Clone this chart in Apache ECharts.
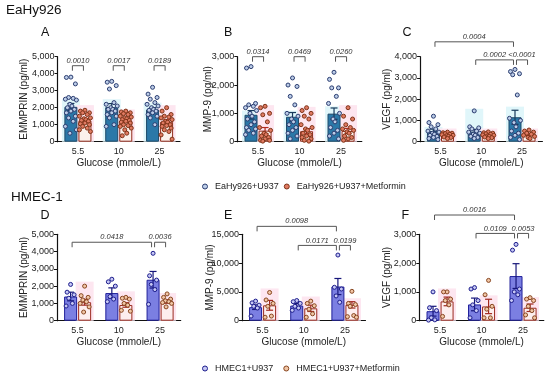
<!DOCTYPE html>
<html><head><meta charset="utf-8">
<script src="https://cdn.jsdelivr.net/npm/echarts@6/dist/echarts.min.js"></script>
<style>html,body{margin:0;padding:0;background:#fff}#c{width:550px;height:379px}</style>
</head><body><div id="c"></div>
<script>
const categories = ['5.5', '10', '25'];
const xName = 'Glucose (mmole/L)';
const legendTop = ['EaHy926+U937', 'EaHy926+U937+Metformin'];
const legendBottom = ['HMEC1+U937', 'HMEC1+U937+Metformin'];

// ---- Panel A : EMMPRIN, EaHy926
const aBlueMean = [2050, 2030, 1890];
const aBlueSem = [200, 210, 110];
const aRedMean = [1240, 1220, 1170];
const aRedSem = [90, 80, 120];
const aBlueDots = [
  [3800, 3780, 3400, 2600, 2550, 2500, 2450, 2200, 2100, 2000, 1900, 1800, 1700, 1500, 1400, 1200, 900, 700, 500],
  [3550, 3500, 3300, 3100, 2300, 2200, 2100, 2000, 1900, 1900, 1800, 1700, 1600, 1500, 1400, 1000, 900],
  [3200, 2800, 2600, 2500, 2300, 2200, 2100, 2000, 1900, 1850, 1800, 1700, 1600, 1500, 1400, 1000]];
const aRedDots = [
  [1850, 1800, 1700, 1700, 1600, 1500, 1400, 1350, 1300, 1250, 1200, 1100, 1050, 1000, 900, 800, 700, 600],
  [1800, 1750, 1700, 1650, 1600, 1500, 1450, 1400, 1350, 1300, 1250, 1200, 1150, 1100, 1000, 950, 900, 800, 700, 500, 350],
  [2000, 1800, 1600, 1500, 1450, 1400, 1300, 1200, 1150, 1100, 1000, 950, 900, 800, 700, 600, 400, 150]];
const aBlueShade = [2500, 2500, 2300];
const aRedShade = [2150, 1900, 2150];
const aBrackets = [
  {text: '0.0010', from: [0, 0], to: [0, 1], level: 4470},
  {text: '0.0017', from: [1, 0], to: [1, 1], level: 4470},
  {text: '0.0189', from: [2, 0], to: [2, 1], level: 4470}];

// ---- Panel B : MMP-9, EaHy926
const bBlueMean = [950, 880, 990];
const bBlueSem = [150, 150, 200];
const bRedMean = [390, 370, 380];
const bRedSem = [110, 90, 90];
const bBlueDots = [
  [2650, 2600, 1350, 1300, 1250, 1200, 1100, 1000, 900, 800, 700, 600, 500, 450, 400, 300, 250],
  [2250, 2000, 1950, 1600, 1300, 1000, 900, 800, 700, 600, 500, 400, 300, 200, 100],
  [2450, 2200, 1900, 1900, 1600, 1350, 1000, 800, 700, 500, 400, 300, 200, 100]];
const bRedDots = [
  [1250, 1200, 1000, 950, 700, 500, 400, 300, 250, 200, 150, 100, 50, 50, 20],
  [1200, 1100, 1000, 900, 800, 600, 500, 450, 400, 300, 250, 200, 150, 100, 50, 20],
  [1200, 900, 800, 600, 500, 450, 400, 350, 300, 200, 150, 100, 50]];
const bBlueShade = [1100, 1100, 1250];
const bRedShade = [1290, 1230, 1290];
const bBrackets = [
  {text: '0.0314', from: [0, 0], to: [0, 1], level: 3000},
  {text: '0.0469', from: [1, 0], to: [1, 1], level: 3000},
  {text: '0.0260', from: [2, 0], to: [2, 1], level: 3000}];

// ---- Panel C : VEGF, EaHy926
const cBlueMean = [500, 470, 1150];
const cBlueSem = [90, 110, 330];
const cRedMean = [320, 320, 330];
const cRedSem = [30, 30, 35];
const cBlueDots = [
  [1200, 900, 800, 700, 600, 500, 450, 400, 350, 300, 250, 200, 150, 100],
  [1450, 700, 650, 600, 500, 450, 400, 350, 300, 250, 200, 150],
  [3400, 3300, 3200, 3150, 2200, 1100, 1000, 900, 700, 500, 400, 300, 200, 100]];
const cRedDots = [
  [450, 420, 400, 380, 350, 330, 300, 280, 250, 220, 200, 150],
  [460, 420, 400, 370, 350, 320, 300, 270, 250, 220, 190, 150],
  [550, 500, 450, 400, 350, 300, 250, 200, 150]];
const cBlueShade = [700, 1550, 1650];
const cRedShade = [620, 620, 620];
const cBrackets = [
  {text: '0.0004', from: [0, 0], to: [2, 0], level: 4700},
  {text: '0.0002', from: [1, 0], to: [2, 0], level: 3850},
  {text: '<0.0001', from: [2, 0], to: [2, 1], level: 3850}];

// ---- Panel D : EMMPRIN, HMEC-1
const dBlueMean = [1400, 1600, 2370];
const dBlueSem = [250, 300, 480];
const dRedMean = [1070, 910, 1110];
const dRedSem = [170, 130, 100];
const dBlueDots = [[2100, 1650, 1500, 1300, 1000, 850], [2400, 2250, 2000, 1400, 1250, 1100], [3900, 2600, 2350, 2100, 1800, 950]];
const dRedDots = [[2000, 1450, 1350, 1200, 1100, 1000, 800, 500], [1350, 1300, 1250, 1000, 900, 600, 550], [1550, 1350, 1250, 1150, 1100, 1050, 1000, 800]];
const dRedShade = [2260, 1700, 1600];
const dBrackets = [
  {text: '0.0418', from: [0, 0], to: [2, 0], level: 4540},
  {text: '0.0036', from: [2, 0], to: [2, 1], level: 4540}];

// ---- Panel E : MMP-9, HMEC-1
const eBlueMean = [2350, 2620, 5930];
const eBlueSem = [400, 350, 1400];
const eRedMean = [2670, 2150, 2750];
const eRedSem = [850, 550, 550];
const eBlueDots = [[3400, 3100, 2700, 2500, 2200, 800], [3500, 3300, 3000, 2500, 2200, 1800], [11400, 5800, 5500, 4300, 3200]];
const eRedDots = [[4900, 3600, 3000, 2500, 800, 600], [3400, 3000, 2600, 2000, 1200, 600], [5100, 3000, 2800, 2500, 900, 700, 600]];
const eRedShade = [5600, 4200, 3900];
const eBrackets = [
  {text: '0.0098', from: [0, 0], to: [2, 0], level: 16380},
  {text: '0.0171', from: [1, 0], to: [2, 0], level: 13070},
  {text: '0.0199', from: [2, 0], to: [2, 1], level: 13070}];

// ---- Panel F : VEGF, HMEC-1
const fBlueMean = [330, 565, 1550];
const fBlueSem = [170, 220, 430];
const fRedMean = [670, 495, 450];
const fRedSem = [150, 250, 130];
const fBlueDots = [[1000, 450, 350, 100, 30, 20], [1150, 1100, 700, 550, 350, 100], [2650, 2450, 1100, 1000, 900, 700]];
const fRedDots = [[1000, 1000, 750, 700, 550, 150], [1400, 900, 500, 400, 100, 100], [800, 750, 700, 500, 350, 200, 100]];
const fRedShade = [1120, 880, 820];
const fBrackets = [
  {text: '0.0016', from: [0, 0], to: [2, 0], level: 3670},
  {text: '0.0109', from: [1, 0], to: [2, 0], level: 3030},
  {text: '0.0053', from: [2, 0], to: [2, 1], level: 3030}];

// ---------------- styles & layout ----------------
const topTheme = {
  blueFill: '#2b78a8', blueBorder: '#1d4a68', redFill: '#fbf1ec', redBorder: '#922c1c',
  blueErr: '#183a5c', redErr: '#b02a1e',
  blueDotFill: '#bccde8', blueDotStroke: '#2b3d70', redDotFill: '#e07a62', redDotStroke: '#7e3317',
  blueShade: '#e0f6fa', redShade: '#fde6f0', jitter: [0, -4.5, 4.5, -2.3, 2.3, -5.5, 5.5, -1, 1, -3.5, 3.5]
};
const botTheme = {
  blueFill: '#7b7fe2', blueBorder: '#20209a', redFill: '#fdeeee', redBorder: '#9c2a20',
  blueErr: '#16167a', redErr: '#a0281e',
  blueDotFill: '#c6c8f4', blueDotStroke: '#1c1c8c', redDotFill: '#f1c6a6', redDotStroke: '#87451f',
  blueShade: null, redShade: '#fde6f0', jitter: [0, -3.5, 3.5, -1.8, 1.8, -4.5, 4.5, -1, 1]
};

const panels = [
  {letter: 'A', yName: 'EMMPRIN (pg/ml)', max: 5000, interval: 1000, grid: [57.5, 56.7, 122.5, 85], yNameGap: 28, letterPos: [41, 26],
   bm: aBlueMean, bs: aBlueSem, rm: aRedMean, rs: aRedSem, bd: aBlueDots, rd: aRedDots, bsh: aBlueShade, rsh: aRedShade, br: aBrackets, th: topTheme, lg: legendTop},
  {letter: 'B', yName: 'MMP-9 (pg/ml)', max: 3000, interval: 1000, grid: [237.3, 56.7, 124.5, 85], yNameGap: 24, letterPos: [224, 26],
   bm: bBlueMean, bs: bBlueSem, rm: bRedMean, rs: bRedSem, bd: bBlueDots, rd: bRedDots, bsh: bBlueShade, rsh: bRedShade, br: bBrackets, th: topTheme, lg: legendTop},
  {letter: 'C', yName: 'VEGF (pg/ml)', max: 4000, interval: 1000, grid: [420.1, 56.7, 122.3, 85], yNameGap: 27.5, letterPos: [402.5, 26],
   bm: cBlueMean, bs: cBlueSem, rm: cRedMean, rs: cRedSem, bd: cBlueDots, rd: cRedDots, bsh: cBlueShade, rsh: cRedShade, br: cBrackets, th: topTheme, lg: legendTop},
  {letter: 'D', yName: 'EMMPRIN (pg/ml)', max: 5000, interval: 1000, grid: [57, 234.3, 123.7, 86.4], yNameGap: 27.5, letterPos: [40.5, 209.5],
   bm: dBlueMean, bs: dBlueSem, rm: dRedMean, rs: dRedSem, bd: dBlueDots, rd: dRedDots, bsh: null, rsh: dRedShade, br: dBrackets, th: botTheme, lg: legendBottom},
  {letter: 'E', yName: 'MMP-9 (pg/ml)', max: 15000, interval: 5000, grid: [242, 234.3, 123.5, 86.4], yNameGap: 27, letterPos: [224, 209.5],
   bm: eBlueMean, bs: eBlueSem, rm: eRedMean, rs: eRedSem, bd: eBlueDots, rd: eRedDots, bsh: null, rsh: eRedShade, br: eBrackets, th: botTheme, lg: legendBottom},
  {letter: 'F', yName: 'VEGF (pg/ml)', max: 3000, interval: 1000, grid: [419.3, 234.3, 124.5, 86.4], yNameGap: 27, letterPos: [401.5, 209.5],
   bm: fBlueMean, bs: fBlueSem, rm: fRedMean, rs: fRedSem, bd: fBlueDots, rd: fRedDots, bsh: null, rsh: fRedShade, br: fBrackets, th: botTheme, lg: legendBottom}
];

const BAR_W = 13;
const SIDE = (BAR_W + BAR_W * 0.08) / 2; // centre offset of each bar from the category centre
const sideOffset = s => (s === 0 ? -SIDE : SIDE);

function shadeSeries(k, values, side, color) {
  return {
    type: 'custom', name: '_shade', xAxisIndex: k, yAxisIndex: k, z: 1, silent: true,
    data: values.map((v, i) => [i, v]),
    renderItem: (params, api) => {
      const top = api.coord([api.value(0), api.value(1)]);
      const bot = api.coord([api.value(0), 0]);
      const cx = top[0] + sideOffset(side);
      return {type: 'rect', shape: {x: cx - 9, y: top[1], width: 18, height: bot[1] - top[1]}, style: {fill: color}};
    }
  };
}
function errSeries(k, means, sems, side, color) {
  return {
    type: 'custom', name: '_err', xAxisIndex: k, yAxisIndex: k, z: 4, silent: true,
    data: means.map((m, i) => [i, m, sems[i]]),
    renderItem: (params, api) => {
      const c = api.value(0), m = api.value(1), s = api.value(2);
      const t = api.coord([c, m + s]), b = api.coord([c, Math.max(0, m - s)]);
      const x = t[0] + sideOffset(side);
      const st = {stroke: color, lineWidth: 1.2};
      return {type: 'group', children: [
        {type: 'line', shape: {x1: x, y1: t[1], x2: x, y2: b[1]}, style: st},
        {type: 'line', shape: {x1: x - 3.5, y1: t[1], x2: x + 3.5, y2: t[1]}, style: st},
        {type: 'line', shape: {x1: x - 3.5, y1: b[1], x2: x + 3.5, y2: b[1]}, style: st}]};
    }
  };
}
function dotSeries(k, groups, side, fill, stroke, jitter) {
  const data = [];
  groups.forEach((g, c) => g.forEach((v, i) => data.push([c, v, i])));
  return {
    type: 'custom', name: '_dots', xAxisIndex: k, yAxisIndex: k, z: 5, silent: true,
    data: data,
    renderItem: (params, api) => {
      const p = api.coord([api.value(0), api.value(1)]);
      const x = p[0] + sideOffset(side) + jitter[api.value(2) % jitter.length];
      return {type: 'circle', shape: {cx: x, cy: p[1], r: 2}, style: {fill: fill, stroke: stroke, lineWidth: 1}};
    }
  };
}
function bracketSeries(k, brs) {
  return {
    type: 'custom', name: '_brackets', xAxisIndex: k, yAxisIndex: k, z: 6, silent: true, clip: false,
    data: brs.map((b, i) => [b.from[0], b.level, i]),
    renderItem: (params, api) => {
      const b = brs[api.value(2)];
      const y = api.coord([0, b.level])[1];
      const x1 = api.coord([b.from[0], b.level])[0] + sideOffset(b.from[1]) + 1.5;
      const x2 = api.coord([b.to[0], b.level])[0] + sideOffset(b.to[1]) - 1.5;
      const st = {stroke: '#555', lineWidth: 1};
      return {type: 'group', children: [
        {type: 'polyline', shape: {points: [[x1, y + 5], [x1, y], [x2, y], [x2, y + 5]]}, style: Object.assign({fill: null}, st)},
        {type: 'text', style: {text: b.text, x: (x1 + x2) / 2, y: y - 5, align: 'center', verticalAlign: 'middle',
          fontSize: 7.5, fontStyle: 'italic', fontFamily: 'Liberation Sans, Arial, sans-serif', fill: '#333'}}]};
    }
  };
}

const grids = [], xAxes = [], yAxes = [], series = [];
const titles = [
  {text: 'EaHy926', left: 6, top: 3, padding: 0, textStyle: {fontSize: 13.5, fontWeight: 'normal', color: '#111', fontFamily: 'Liberation Sans, Arial, sans-serif'}},
  {text: 'HMEC-1', left: 11, top: 190.5, padding: 0, textStyle: {fontSize: 13.5, fontWeight: 'normal', color: '#111', fontFamily: 'Liberation Sans, Arial, sans-serif'}}
];

panels.forEach((p, k) => {
  const th = p.th;
  grids.push({left: p.grid[0], top: p.grid[1], width: p.grid[2], height: p.grid[3], containLabel: false, outerBoundsMode: 'none'});
  xAxes.push({
    type: 'category', gridIndex: k, data: categories,
    name: xName, nameLocation: 'middle', nameGap: 17,
    nameTextStyle: {fontSize: 10, color: '#222', fontFamily: 'Liberation Sans, Arial, sans-serif'},
    axisLine: {lineStyle: {color: '#111', width: 1.2}},
    axisTick: {alignWithLabel: true, length: 3, lineStyle: {color: '#111'}},
    axisLabel: {fontSize: 9, color: '#222', margin: 5, fontFamily: 'Liberation Sans, Arial, sans-serif'}
  });
  yAxes.push({
    type: 'value', gridIndex: k, min: 0, max: p.max, interval: p.interval,
    name: p.yName, nameLocation: 'middle', nameGap: p.yNameGap, nameMoveOverlap: false,
    nameTextStyle: {fontSize: 10, color: '#222', fontFamily: 'Liberation Sans, Arial, sans-serif'},
    axisLine: {show: true, lineStyle: {color: '#111', width: 1.2}},
    axisTick: {show: true, length: 3, lineStyle: {color: '#111'}},
    axisLabel: {fontSize: 9, color: '#222', margin: 3, fontFamily: 'Liberation Sans, Arial, sans-serif',
      formatter: v => v.toLocaleString('en-US')},
    splitLine: {show: false}
  });
  titles.push({text: p.letter, left: p.letterPos[0], top: p.letterPos[1], padding: 0,
    textStyle: {fontSize: 12.5, fontWeight: 'normal', color: '#111', fontFamily: 'Liberation Sans, Arial, sans-serif'}});

  if (p.bsh && th.blueShade) series.push(shadeSeries(k, p.bsh, 0, th.blueShade));
  if (p.rsh && th.redShade) series.push(shadeSeries(k, p.rsh, 1, th.redShade));
  series.push({type: 'bar', name: p.lg[0], xAxisIndex: k, yAxisIndex: k, data: p.bm, barWidth: BAR_W, barGap: '8%', z: 3, silent: true,
    itemStyle: {color: th.blueFill, borderColor: th.blueBorder, borderWidth: 1}});
  series.push({type: 'bar', name: p.lg[1], xAxisIndex: k, yAxisIndex: k, data: p.rm, barWidth: BAR_W, barGap: '8%', z: 3, silent: true,
    itemStyle: {color: th.redFill, borderColor: th.redBorder, borderWidth: 1}});
  series.push(errSeries(k, p.bm, p.bs, 0, th.blueErr));
  series.push(errSeries(k, p.rm, p.rs, 1, th.redErr));
  series.push(dotSeries(k, p.bd, 0, th.blueDotFill, th.blueDotStroke, th.jitter));
  series.push(dotSeries(k, p.rd, 1, th.redDotFill, th.redDotStroke, th.jitter));
  series.push(bracketSeries(k, p.br));
});

const legendText = {fontSize: 9, color: '#222', fontFamily: 'Liberation Sans, Arial, sans-serif'};
const option = {
  animation: false,
  backgroundColor: '#fff',
  title: titles,
  grid: grids, xAxis: xAxes, yAxis: yAxes, series: series,
  legend: [
    {left: 202, top: 182, padding: 0, itemWidth: 10, itemHeight: 5, itemGap: 5, icon: 'circle', selectedMode: false, textStyle: legendText,
     data: [{name: legendTop[0], itemStyle: {color: topTheme.blueDotFill, borderColor: topTheme.blueDotStroke, borderWidth: 1}},
            {name: legendTop[1], itemStyle: {color: topTheme.redDotFill, borderColor: topTheme.redDotStroke, borderWidth: 1}}]},
    {left: 202, top: 364, padding: 0, itemWidth: 10, itemHeight: 5, itemGap: 10, icon: 'circle', selectedMode: false, textStyle: legendText,
     data: [{name: legendBottom[0], itemStyle: {color: botTheme.blueDotFill, borderColor: botTheme.blueDotStroke, borderWidth: 1}},
            {name: legendBottom[1], itemStyle: {color: botTheme.redDotFill, borderColor: botTheme.redDotStroke, borderWidth: 1}}]}
  ]
};
const chart = echarts.init(document.getElementById('c'), null, {renderer: 'canvas'});
chart.setOption(option);
</script>
</body></html>
